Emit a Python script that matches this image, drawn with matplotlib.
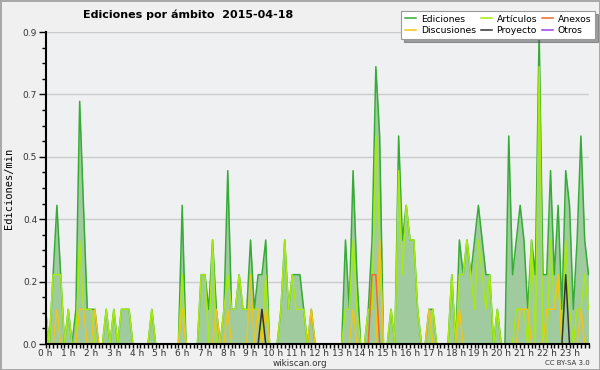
import matplotlib
matplotlib.use("Agg")
import matplotlib.pyplot as plt
import numpy as np

# edits per minute, one value every 10 minutes (0:00 .. 23:50)
def series(points):
    vals = [0.0] * 144
    for k, v in points.items():
        vals[k] = v
    return vals

ediciones = series({0: 0.1, 2: 0.2, 3: 0.4, 4: 0.2, 6: 0.1, 8: 0.1, 9: 0.7, 10: 0.4, 11: 0.1, 12: 0.1,
                    13: 0.1, 16: 0.1, 18: 0.1, 20: 0.1, 21: 0.1, 22: 0.1, 28: 0.1, 36: 0.4, 41: 0.2,
                    42: 0.2, 43: 0.1, 44: 0.3, 45: 0.1, 47: 0.1, 48: 0.5, 49: 0.1, 50: 0.1, 51: 0.2,
                    52: 0.1, 53: 0.1, 54: 0.3, 55: 0.1, 56: 0.2, 57: 0.2, 58: 0.3, 62: 0.1, 63: 0.3,
                    64: 0.1, 65: 0.2, 66: 0.2, 67: 0.2, 68: 0.1, 70: 0.1, 79: 0.3, 80: 0.1, 81: 0.5,
                    82: 0.2, 85: 0.1, 86: 0.3, 87: 0.8, 88: 0.6, 91: 0.1, 93: 0.6, 94: 0.3, 95: 0.4,
                    96: 0.3, 97: 0.3, 98: 0.1, 101: 0.1, 102: 0.1, 107: 0.2, 109: 0.3, 110: 0.2,
                    111: 0.3, 112: 0.2, 113: 0.3, 114: 0.4, 115: 0.3, 116: 0.2, 117: 0.2, 119: 0.1,
                    122: 0.6, 123: 0.2, 124: 0.3, 125: 0.4, 126: 0.3, 127: 0.1, 128: 0.3, 129: 0.2,
                    130: 0.9, 131: 0.2, 132: 0.2, 133: 0.5, 134: 0.2, 135: 0.4, 136: 0.1, 137: 0.5,
                    138: 0.4, 139: 0.1, 140: 0.3, 141: 0.6, 142: 0.3, 143: 0.2})
articulos = series({0: 0.1, 2: 0.2, 3: 0.2, 4: 0.2, 6: 0.1, 9: 0.3, 10: 0.1, 11: 0.1, 12: 0.1, 16: 0.1,
                    18: 0.1, 20: 0.1, 21: 0.1, 22: 0.1, 28: 0.1, 36: 0.2, 41: 0.2, 42: 0.2, 44: 0.3,
                    47: 0.1, 48: 0.2, 49: 0.1, 50: 0.1, 51: 0.2, 52: 0.1, 53: 0.1, 54: 0.1, 55: 0.1,
                    56: 0.1, 58: 0.2, 62: 0.1, 63: 0.3, 64: 0.1, 65: 0.2, 66: 0.1, 67: 0.1, 68: 0.1,
                    79: 0.1, 80: 0.1, 81: 0.3, 82: 0.1, 85: 0.1, 86: 0.1, 87: 0.6, 88: 0.3, 91: 0.1,
                    93: 0.5, 94: 0.2, 95: 0.4, 96: 0.3, 97: 0.3, 98: 0.1, 102: 0.1, 107: 0.2, 109: 0.2,
                    110: 0.2, 111: 0.3, 112: 0.2, 113: 0.1, 114: 0.3, 115: 0.2, 116: 0.1, 117: 0.2,
                    119: 0.1, 124: 0.1, 125: 0.1, 126: 0.1, 128: 0.3, 130: 0.8, 133: 0.3, 134: 0.1,
                    135: 0.2, 137: 0.3, 138: 0.1, 140: 0.1, 141: 0.1, 142: 0.2, 143: 0.1})
discusiones = series({3: 0.1, 9: 0.1, 10: 0.1, 13: 0.1, 36: 0.1, 45: 0.1, 48: 0.1, 54: 0.2, 56: 0.1,
                      58: 0.1, 70: 0.1, 81: 0.1, 88: 0.3, 101: 0.1, 109: 0.1, 125: 0.1, 126: 0.1,
                      127: 0.1, 132: 0.1, 133: 0.1, 134: 0.1, 135: 0.2, 141: 0.1})
anexos = series({86: 0.2, 87: 0.2})
proyecto = series({57: 0.1, 137: 0.2})
otros = series({})

hours = np.arange(144) / 6.0
hour_labels = ["%d h" % h for h in range(24)]

fig = plt.figure(figsize=(6, 3.7), dpi=100)
fig.patch.set_facecolor("#f0f0f0")
fig.patch.set_edgecolor("#a8a8a8")
fig.patch.set_linewidth(2)
ax = fig.add_axes([45.5 / 600, 1 - 344 / 370, (588.5 - 45.5) / 600, (344 - 32) / 370])
ax.set_facecolor("#eef0f2")

ax.fill_between(hours, ediciones, color="#9fcb9f", lw=0)
l_ed, = ax.plot(hours, ediciones, color="#36ab36", lw=1.1, label="Ediciones")
l_ot, = ax.plot(hours, otros, color="#9a40f0", lw=1.1, label="Otros")
l_art, = ax.plot(hours, articulos, color="#a6ea10", lw=1.1, label="Artículos")
l_dis, = ax.plot(hours, discusiones, color="#f0c419", lw=1.1, label="Discusiones")
l_anx, = ax.plot(hours, anexos, color="#f06a2a", lw=1.1, label="Anexos")
l_pro, = ax.plot(hours, proyecto, color="#333333", lw=1.1, label="Proyecto")

ax.set_xlim(0, 143 / 6.0)
ax.set_ylim(0, 0.9)
ax.set_xticks(range(24))
ax.set_xticklabels(hour_labels)
ax.set_xticks(hours, minor=True)
yt = np.linspace(0, 0.9, 6)
ax.set_yticks(yt)
ax.set_yticklabels(["%.1f" % v for v in yt])
ax.set_yticks(np.arange(0, 0.91, 0.045), minor=True)
ax.tick_params(axis="x", which="both", direction="out", length=3, width=1, pad=0.5,
               labelsize=6.5, colors="black", labelcolor="#333333")
ax.tick_params(axis="y", which="major", direction="out", length=5, width=1, pad=1,
               labelsize=6.5, labelcolor="#333333")
ax.tick_params(axis="y", which="minor", direction="out", length=3, width=1)
ax.yaxis.grid(True, which="major", color="#cccccc", lw=1)
ax.set_axisbelow(True)
for s in ["top", "right"]:
    ax.spines[s].set_visible(False)
for s in ["left", "bottom"]:
    ax.spines[s].set_linewidth(1.5)
    ax.spines[s].set_zorder(5)

ax.set_ylabel("Ediciones/min", family="DejaVu Sans Mono", fontsize=7.5, labelpad=6)

fig.text(188 / 600, 1 - 15 / 370, "Ediciones por ámbito  2015-04-18", ha="center", va="center",
         fontsize=8, fontweight="bold")
fig.text(300 / 600, 1 - 363 / 370, "wikiscan.org", ha="center", va="center", fontsize=6.3,
         color="#333333")
fig.text(590 / 600, 1 - 363 / 370, "CC BY-SA 3.0", ha="right", va="center", fontsize=5,
         color="#333333")

leg = ax.legend([l_ed, l_dis, l_art, l_pro, l_anx, l_ot],
                ["Ediciones", "Discusiones", "Artículos", "Proyecto", "Anexos", "Otros"],
                ncol=3, loc="upper right", bbox_to_anchor=(595 / 600, 1 - 11 / 370),
                bbox_transform=fig.transFigure, fontsize=6.7, frameon=True, fancybox=False,
                shadow=True, handlelength=1.2, handletextpad=0.5, columnspacing=0.5,
                labelspacing=0.25, borderpad=0.4, borderaxespad=0)
leg.get_frame().set_edgecolor("#999999")
leg.get_frame().set_linewidth(0.8)
leg.set_zorder(10)

fig.savefig("out.png", dpi=100, facecolor=fig.get_facecolor(), edgecolor=fig.get_edgecolor())
